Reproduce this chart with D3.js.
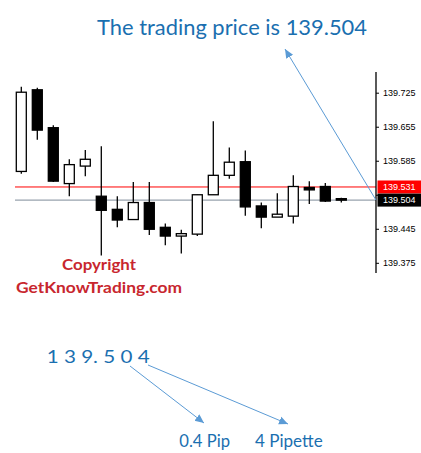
<!DOCTYPE html>
<html>
<head>
<meta charset="utf-8">
<script src="https://cdn.jsdelivr.net/npm/d3@7"></script>
<style>
body{margin:0;background:#fff;}
</style>
</head>
<body>
<div id="chart"></div>
<script>
var width = 421;
var height = 453;

// candles, left to right
var candleOpen  = [139.563,139.731,139.653,139.538,139.574,139.512,139.485,139.464,139.499,139.448,139.430,139.434,139.515,139.555,139.583,139.492,139.469,139.471,139.530,139.532,139.507];
var candleHigh  = [139.737,139.735,139.658,139.588,139.607,139.615,139.512,139.541,139.541,139.456,139.443,139.515,139.666,139.612,139.606,139.499,139.518,139.555,139.543,139.539,139.509];
var candleLow   = [139.558,139.628,139.541,139.512,139.553,139.390,139.448,139.464,139.432,139.411,139.394,139.430,139.515,139.548,139.472,139.446,139.469,139.456,139.496,139.500,139.499];
var candleClose = [139.726,139.648,139.543,139.577,139.588,139.483,139.463,139.499,139.444,139.430,139.435,139.515,139.555,139.582,139.490,139.469,139.475,139.532,139.525,139.502,139.504];

var priceTicks = [139.375,139.445,139.515,139.585,139.655,139.725];
var hiddenTick = 139.515; // sits under the price tags
var askPrice = 139.531;
var bidPrice = 139.504;

var titleText = "The trading price is 139.504";
var copyText = ["Copyright","GetKnowTrading.com"];
var digitsText = "1 3 9. 5 0 4";
var pipText = "0.4 Pip";
var pipetteText = "4 Pipette";

var blue = "#1a6fb0";
var arrowBlue = "#5b9bd5";
var red = "#c8262e";

var svg = d3.select("#chart").append("svg").attr("width",width).attr("height",height);

var defs = svg.append("defs");
defs.append("marker")
	.attr("id","arrow")
	.attr("markerUnits","userSpaceOnUse")
	.attr("markerWidth",10).attr("markerHeight",10)
	.attr("viewBox","0 0 10 10")
	.attr("refX",9).attr("refY",5)
	.attr("orient","auto")
	.append("path")
		.attr("d","M0,1 L9,5 L0,9 Z")
		.attr("fill",arrowBlue);

var x = d3.scaleLinear().domain([0, candleOpen.length-1]).range([21.3, 341.3]);
var y = d3.scaleLinear().domain([139.375, 139.725]).range([262.8, 92.7]);
var axisX = 376;
var bodyW = 10;

// price lines
svg.append("line")
	.attr("x1",15).attr("x2",axisX)
	.attr("y1",y(askPrice)).attr("y2",y(askPrice))
	.attr("stroke","#ff0000").attr("stroke-width",1);
svg.append("line")
	.attr("x1",15).attr("x2",axisX)
	.attr("y1",y(bidPrice)).attr("y2",y(bidPrice))
	.attr("stroke","#7f8c99").attr("stroke-width",1);

// candles
var idx = d3.range(candleOpen.length);
var candles = svg.append("g").selectAll("g").data(idx).enter().append("g");
candles.append("line")
	.attr("x1",function(i){return x(i);}).attr("x2",function(i){return x(i);})
	.attr("y1",function(i){return y(candleHigh[i]);})
	.attr("y2",function(i){return y(candleLow[i]);})
	.attr("stroke","#000").attr("stroke-width",1.3);
candles.append("rect")
	.attr("x",function(i){return x(i)-bodyW/2;})
	.attr("width",bodyW)
	.attr("y",function(i){return y(Math.max(candleOpen[i],candleClose[i]));})
	.attr("height",function(i){return Math.max(1.5, Math.abs(y(candleOpen[i])-y(candleClose[i])));})
	.attr("fill",function(i){return candleClose[i]>=candleOpen[i] ? "#fff" : "#000";})
	.attr("stroke","#000").attr("stroke-width",1.3);

// axis
var axis = svg.append("g")
	.attr("transform","translate("+axisX+",0)")
	.call(d3.axisRight(y).tickValues(priceTicks).tickSize(3).tickPadding(4)
		.tickFormat(function(d){ return d==hiddenTick ? "" : d3.format(".3f")(d); }));
axis.select(".domain").remove();
axis.selectAll("text").attr("font-family","'Liberation Sans', Arial, sans-serif").attr("font-size",9).attr("fill","#000");
axis.selectAll("line").attr("stroke","#000");
svg.append("line")
	.attr("x1",axisX).attr("x2",axisX).attr("y1",72).attr("y2",273)
	.attr("stroke","#000").attr("stroke-width",1.3);

// price tags
[[askPrice,"#ff0000"],[bidPrice,"#000"]].forEach(function(p){
	var py = y(p[0]);
	svg.append("rect").attr("x",axisX+1.5).attr("y",py-6.5).attr("width",width-axisX).attr("height",13).attr("fill",p[1]);
	svg.append("text").attr("x",axisX+7).attr("y",py+3.3)
		.attr("font-family","'Liberation Sans', Arial, sans-serif").attr("font-size",9)
		.attr("fill","#fff").text(d3.format(".3f")(p[0]));
});

// title and arrow
svg.append("text").attr("x",97).attr("y",35)
	.attr("font-family","Lato, 'Open Sans', sans-serif").attr("font-size",22)
	.attr("fill",blue).attr("textLength",270).attr("lengthAdjust","spacingAndGlyphs")
	.text(titleText);
svg.append("line")
	.attr("x1",axisX).attr("y1",y(bidPrice)).attr("x2",285).attr("y2",49)
	.attr("stroke",arrowBlue).attr("stroke-width",1).attr("marker-end","url(#arrow)");

// watermark
var copyPos = [[62,270,74],[16,293.3,166]];
copyText.forEach(function(t,i){
	var c = copyPos[i];
	svg.append("text").attr("x",c[0]).attr("y",c[1])
		.attr("font-family","Lato, sans-serif").attr("font-weight","bold").attr("font-size",15.5)
		.attr("fill",red)
		.attr("textLength",c[2]).attr("lengthAdjust","spacingAndGlyphs")
		.text(t);
});

// pip explanation
svg.append("text").attr("x",46.7).attr("y",363.3)
	.attr("font-family","Lato, sans-serif").attr("font-size",17.5)
	.attr("fill",blue).attr("textLength",103).attr("lengthAdjust","spacingAndGlyphs")
	.text(digitsText);
svg.append("line").attr("x1",130).attr("y1",366).attr("x2",204).attr("y2",423)
	.attr("stroke",arrowBlue).attr("stroke-width",1).attr("marker-end","url(#arrow)");
svg.append("line").attr("x1",148).attr("y1",365).attr("x2",288).attr("y2",424)
	.attr("stroke",arrowBlue).attr("stroke-width",1).attr("marker-end","url(#arrow)");
svg.append("text").attr("x",179.3).attr("y",446.7)
	.attr("font-family","Lato, sans-serif").attr("font-size",17.5)
	.attr("fill",blue).attr("textLength",50.7).attr("lengthAdjust","spacingAndGlyphs")
	.text(pipText);
svg.append("text").attr("x",255).attr("y",446.7)
	.attr("font-family","Lato, sans-serif").attr("font-size",17.5)
	.attr("fill",blue).attr("textLength",67.7).attr("lengthAdjust","spacingAndGlyphs")
	.text(pipetteText);
</script>
</body>
</html>
